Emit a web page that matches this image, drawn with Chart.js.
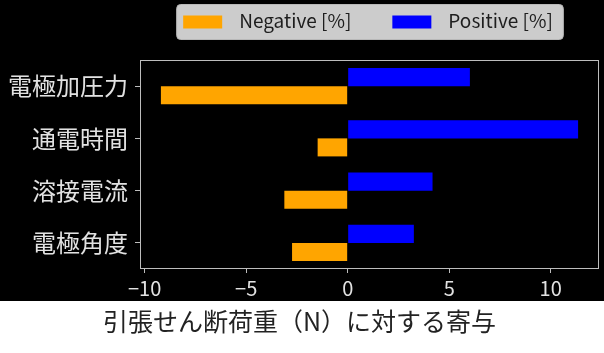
<!DOCTYPE html>
<html>
<head>
<meta charset="utf-8">
<script src="https://cdn.jsdelivr.net/npm/chart.js@4.4.1/dist/chart.umd.min.js"></script>
<style>
  html, body { margin: 0; padding: 0; background: #fff; }
  canvas { display: block; }
</style>
</head>
<body>
<canvas id="chart" width="604" height="353"></canvas>
<script>
const categories = ['電極加圧力', '通電時間', '溶接電流', '電極角度'];
const positiveValues = [6.02, 11.35, 4.18, 3.26];
const negativeValues = [-9.2, -1.48, -3.12, -2.74];
const xTicks = [-10, -5, 0, 5, 10];
const seriesNames = ['Positive [%]', 'Negative [%]'];
const xLabel = '引張せん断荷重（N）に対する寄与';

const FONT = '"Noto Sans CJK JP", "Noto Sans", sans-serif';
const AXIS_COLOR = '#bdbdbd';
const TEXT_COLOR = '#e2e2e2';
const FIGURE_BOTTOM = 301; // black figure ends here, white slide below

// black figure on a white page
const backgroundPlugin = {
  id: 'background',
  beforeDraw(chart) {
    const ctx = chart.ctx;
    ctx.save();
    ctx.fillStyle = '#000';
    ctx.fillRect(0, 0, chart.width, FIGURE_BOTTOM);
    ctx.fillStyle = '#fff';
    ctx.fillRect(0, FIGURE_BOTTOM, chart.width, chart.height - FIGURE_BOTTOM);
    ctx.restore();
  }
};

// axes frame + matplotlib-like legend box
const frameLegendPlugin = {
  id: 'frameLegend',
  afterDraw(chart) {
    const { ctx, chartArea } = chart;
    ctx.save();
    ctx.strokeStyle = AXIS_COLOR;
    ctx.lineWidth = 1;
    const l = Math.round(chartArea.left) + 0.5;
    const t = Math.round(chartArea.top) + 0.5;
    const r = Math.round(chartArea.right) - 0.5;
    const b = Math.round(chartArea.bottom) - 0.5;
    ctx.strokeRect(l, t, r - l, b - t);

    ctx.font = '19px ' + FONT;
    const items = chart.data.datasets.slice().reverse();
    const sw = 39, sh = 13, padL = 7, padR = 10, gapText = 17, gapItem = 41;
    const widths = items.map(d => ctx.measureText(d.label).width);
    const total = padL + padR + items.length * (sw + gapText) +
      widths.reduce((a, c) => a + c, 0) + gapItem * (items.length - 1);
    const boxTop = 4, boxH = 35;
    let x = (chartArea.left + chartArea.right) / 2 - total / 2;

    ctx.beginPath();
    ctx.roundRect(x + 0.5, boxTop + 0.5, total, boxH, 4);
    ctx.fillStyle = '#cccccc';
    ctx.fill();
    ctx.strokeStyle = '#b8b8b8';
    ctx.stroke();

    x += padL;
    ctx.textBaseline = 'alphabetic';
    ctx.textAlign = 'left';
    items.forEach((d, i) => {
      ctx.fillStyle = d.backgroundColor;
      ctx.fillRect(x, boxTop + boxH / 2 - sh / 2 + 0.5, sw, sh);
      x += sw + gapText;
      ctx.fillStyle = '#1e1e1e';
      ctx.fillText(d.label, x, 28);
      x += widths[i] + gapItem;
    });
    ctx.restore();
  }
};

new Chart(document.getElementById('chart'), {
  type: 'bar',
  data: {
    labels: categories,
    datasets: [
      { label: seriesNames[0], data: positiveValues, backgroundColor: '#0000ff' },
      { label: seriesNames[1], data: negativeValues, backgroundColor: '#ffa500' }
    ]
  },
  options: {
    indexAxis: 'y',
    responsive: false,
    animation: false,
    categoryPercentage: 0.69,
    barPercentage: 1.0,
    layout: { padding: { top: 60, right: 5, left: 0, bottom: 0 } },
    scales: {
      x: {
        type: 'linear',
        min: -10.23,
        max: 12.38,
        afterBuildTicks(axis) { axis.ticks = xTicks.map(v => ({ value: v })); },
        grid: { drawOnChartArea: false, drawTicks: true, tickLength: 4, tickColor: AXIS_COLOR },
        border: { display: false },
        ticks: {
          color: TEXT_COLOR,
          font: { family: FONT, size: 20 },
          padding: 3,
          maxRotation: 0,
          callback: v => v < 0 ? '\u2212' + Math.abs(v) : String(v)
        },
        afterFit(axis) { axis.height = 32; }
      },
      y: {
        type: 'category',
        offset: true,
        grid: { drawOnChartArea: false, drawTicks: true, tickLength: 5, tickColor: AXIS_COLOR, offset: false },
        border: { display: false },
        ticks: { color: TEXT_COLOR, font: { family: FONT, size: 24 }, padding: 7 },
        afterFit(axis) { axis.width = 140; }
      }
    },
    plugins: {
      legend: { display: false },
      tooltip: { enabled: false },
      title: {
        display: true,
        position: 'bottom',
        text: xLabel,
        color: '#222222',
        font: { family: FONT, size: 25, weight: 'normal', lineHeight: 1.2 },
        padding: { top: 5, bottom: 17 }
      }
    }
  },
  plugins: [backgroundPlugin, frameLegendPlugin]
});
</script>
</body>
</html>
